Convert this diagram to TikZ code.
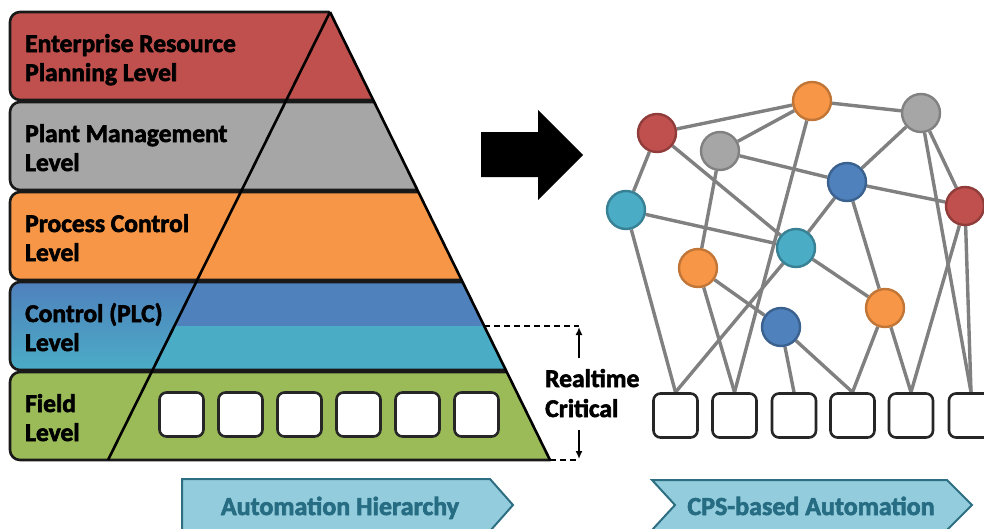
\documentclass[tikz,border=0pt]{standalone}
\usepackage{fontspec}
\setmainfont{Carlito}[BoldFeatures={FakeBold=2.4}]
\usetikzlibrary{arrows.meta}

\definecolor{lvRed}{RGB}{192,80,77}
\definecolor{lvGray}{RGB}{166,166,166}
\definecolor{lvOrange}{RGB}{247,150,70}
\definecolor{lvBlue}{RGB}{79,129,189}
\definecolor{lvCyan}{RGB}{75,172,198}
\definecolor{lvGreen}{RGB}{155,187,89}
\definecolor{bandLine}{RGB}{25,25,25}
\definecolor{linkGray}{RGB}{128,128,128}
\definecolor{chevFill}{RGB}{147,205,221}
\definecolor{chevLine}{RGB}{45,110,130}
\definecolor{chevText}{RGB}{38,108,130}

\pgfdeclarelayer{background}
\pgfsetlayers{background,main}

\tikzset{
  band/.style={draw=bandLine, line width=2.6pt, rounded corners=10pt},
  lvl/.style={anchor=base west, inner sep=0pt, font=\bfseries\fontsize{25.5}{30}\selectfont},
  cell/.style={draw=black!85, line width=2.6pt, fill=white, rounded corners=7pt,
    minimum width=44pt, minimum height=44pt, inner sep=0pt},
  dev/.style={circle, minimum size=38pt, inner sep=0pt, line width=2.4pt},
  devRed/.style={dev, fill=lvRed, draw=lvRed!75!black},
  devGray/.style={dev, fill=lvGray, draw=lvGray!78!black},
  devOrange/.style={dev, fill=lvOrange, draw=lvOrange!78!black},
  devBlue/.style={dev, fill=lvBlue, draw=lvBlue!75!black},
  devCyan/.style={dev, fill=lvCyan, draw=lvCyan!75!black},
  link/.style={draw=linkGray, line width=3.4pt},
  chevron/.style={fill=chevFill, draw=chevLine, line width=2pt},
  chevlabel/.style={anchor=base, inner sep=0pt, text=chevText,
    font=\bfseries\fontsize{26}{30}\selectfont},
  dimdash/.style={draw=black, line width=2.4pt, dash pattern=on 6pt off 4pt},
  dimarrow/.style={draw=black, line width=2.2pt, -{Latex[length=8pt,width=7pt]}},
}

\begin{document}
\begin{tikzpicture}[x=1pt,y=-1pt]
\useasboundingbox (0,0) rectangle (984,528);

% ---------- pyramid bands (clipped to the right flank of the pyramid) ----------
\begin{scope}
  \clip (0,-5) -- (321.65,-5) -- (554.9,470) -- (0,470) -- cycle;
  \draw[band, fill=lvRed]    (10,12)  rectangle (620,100);
  \draw[band, fill=lvGray]   (10,102) rectangle (620,190);
  \draw[band, fill=lvOrange] (10,192) rectangle (620,280);
  % control level: shaded on the left, split blue / cyan inside the pyramid
  \path[rounded corners=10pt, top color=lvBlue, bottom color=lvCyan] (10,282) rectangle (620,370);
  \fill[lvBlue] (196.2,282) -- (620,282) -- (620,326) -- (174.4,326) -- cycle;
  \fill[lvCyan] (174.4,326) -- (620,326) -- (620,370) -- (152.6,370) -- cycle;
  \draw[band] (10,282) rectangle (620,370);
  \draw[band, fill=lvGreen]  (10,372) rectangle (620,460);
\end{scope}

% pyramid flanks
\draw[black, line width=2.6pt] (330,12) -- (550,460);
\draw[black, line width=2.6pt] (330,12) -- (108,460);

% level labels
\node[lvl] (t1a) at (25,52)  {Enterprise Resource};
\node[lvl] (t1b) at (25,81)  {Planning Level};
\node[lvl] (t2a) at (25,142) {Plant Management};
\node[lvl] (t2b) at (25,171) {Level};
\node[lvl] (t3a) at (25,232) {Process Control};
\node[lvl] (t3b) at (25,261) {Level};
\node[lvl] (t4a) at (25,322) {Control (PLC)};
\node[lvl] (t4b) at (25,351) {Level};
\node[lvl] (t5a) at (25,412) {Field};
\node[lvl] (t5b) at (25,441) {Level};

% field devices inside the pyramid
\foreach \i/\x in {1/181.5,2/240.5,3/299.5,4/358.5,5/417.5,6/476.5}
  \node[cell] (p\i) at (\x,414.5) {};

% ---------- realtime-critical dimension ----------
\coordinate (rtTopL) at (484.2,326);
\coordinate (rtTopR) at (579,326);
\coordinate (rtBotL) at (550,460);
\coordinate (rtBotR) at (579,460);
\coordinate (rtUpS)  at (579,358);
\coordinate (rtUpE)  at (579,327);
\coordinate (rtDnS)  at (579,430);
\coordinate (rtDnE)  at (579,459);
\draw[dimdash] (rtTopL) -- (rtTopR);
\draw[dimdash] (rtBotL) -- (rtBotR);
\draw[dimarrow] (rtUpS) -- (rtUpE);
\draw[dimarrow] (rtDnS) -- (rtDnE);
\node[lvl] (rt1) at (545,387) {Realtime};
\node[lvl] (rt2) at (545,417) {Critical};

% ---------- transition arrow ----------
\fill[black] (481,132) -- (538,132) -- (538,110) -- (583,155) -- (538,200)
  -- (538,177) -- (481,177) -- cycle;

% ---------- CPS network ----------
\node[devRed]    (nR1) at (657,133) {};
\node[devOrange] (nO1) at (812,101) {};
\node[devGray]   (nG2) at (921,113) {};
\node[devGray]   (nG1) at (720,151) {};
\node[devBlue]   (nB1) at (847,182) {};
\node[devRed]    (nR2) at (965,206) {};
\node[devCyan]   (nC1) at (626,210) {};
\node[devCyan]   (nC2) at (796,248) {};
\node[devOrange] (nO2) at (698,268) {};
\node[devOrange] (nO3) at (885,308) {};
\node[devBlue]   (nB2) at (781,327) {};

\foreach \i/\x in {1/675.5,2/734.5,3/794,4/852.5,5/911,6/971}
  \node[cell] (q\i) at (\x,415.5) {};

\begin{pgfonlayer}{background}
  \draw[link] (nR1) -- (nO1);
  \draw[link] (nR1) -- (nC1);
  \draw[link] (nR1) -- (nC2);
  \draw[link] (nO1) -- (nG1);
  \draw[link] (nO1) -- (nG2);
  \draw[link] (nO1) -- (q2.north);
  \draw[link] (nG1) -- (nB1);
  \draw[link] (nG1) -- (nO2);
  \draw[link] (nG2) -- (nB1);
  \draw[link] (nG2) -- (nR2);
  \draw[link] (nG2) -- (q6.north);
  \draw[link] (nB1) -- (nR2);
  \draw[link] (nB1) -- (nC2);
  \draw[link] (nB1) -- (nO3);
  \draw[link] (nR2) -- (q5.north);
  \draw[link] (nR2) -- (q6.north);
  \draw[link] (nC1) -- (nC2);
  \draw[link] (nC1) -- (q1.north);
  \draw[link] (nC2) -- (q1.north);
  \draw[link] (nC2) -- (nO3);
  \draw[link] (nO2) -- (nB2);
  \draw[link] (nO2) -- (q2.north);
  \draw[link] (nB2) -- (q3.north);
  \draw[link] (nB2) -- (q4.north);
  \draw[link] (nO3) -- (q4.north);
  \draw[link] (nO3) -- (q5.north);
\end{pgfonlayer}

% ---------- bottom chevrons ----------
\draw[chevron] (182,479) -- (490,479) -- (513,505) -- (490,531) -- (182,531) -- cycle;
\node[chevlabel] (lab1) at (340,515) {Automation Hierarchy};
\draw[chevron] (652,480) -- (947,480) -- (972,505) -- (947,530) -- (652,530)
  -- (675,505) -- cycle;
\node[chevlabel] (lab2) at (811,515) {CPS-based Automation};
\end{tikzpicture}
\end{document}
